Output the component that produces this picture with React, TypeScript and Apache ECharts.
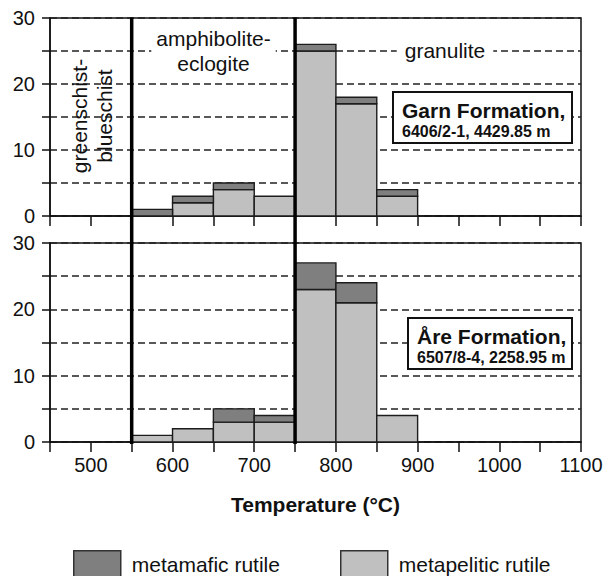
import React, { useEffect, useRef } from 'react';
import * as echarts from 'echarts';

// Histogram bins (°C), 50 °C wide
const binStarts = [550, 600, 650, 700, 750, 800, 850];
const binWidth = 50;

// Garn Formation, 6406/2-1, 4429.85 m
const garnMetapelitic = [0, 2, 4, 3, 25, 17, 3];
const garnMetamafic = [1, 1, 1, 0, 1, 1, 1];

// Åre Formation, 6507/8-4, 2258.95 m
const areMetapelitic = [1, 2, 3, 3, 23, 21, 4];
const areMetamafic = [0, 0, 2, 1, 4, 3, 0];

const xTickLabels = [500, 600, 700, 800, 900, 1000, 1100];
const yTickLabels = [0, 10, 20, 30];
const faciesBoundaries = [550, 750];

const FONT = '"Liberation Sans", Arial, Helvetica, sans-serif';
const DARK = '#7f7f7f';
const LIGHT = '#c0c0c0';
const EDGE = '#1c1c1c';
const INK = '#111111';

const lowerRects = (base: number[]) =>
  binStarts.map((s, i) => [s, s + binWidth, 0, base[i]]);
const upperRects = (base: number[], top: number[]) =>
  binStarts.map((s, i) => [s, s + binWidth, base[i], base[i] + top[i]]);

const renderItem = (_params: any, api: any) => {
  const x0 = api.value(0);
  const x1 = api.value(1);
  const y0 = api.value(2);
  const y1 = api.value(3);
  if (!(y1 > y0)) return null;
  const p0 = api.coord([x0, y1]);
  const p1 = api.coord([x1, y0]);
  return {
    type: 'rect',
    shape: { x: p0[0], y: p0[1], width: p1[0] - p0[0], height: p1[1] - p0[1] },
    style: { fill: api.visual('color'), stroke: EDGE, lineWidth: 1.4 },
  };
};

const makeXAxis = (gridIndex: number, showLabels: boolean) => ({
  type: 'value',
  gridIndex,
  min: 450,
  max: 1100,
  interval: 50,
  axisLine: { show: true, lineStyle: { color: INK, width: 1.5 } },
  axisTick: { show: true, length: 10, inside: false, lineStyle: { color: INK, width: 1.5 } },
  axisLabel: {
    show: showLabels,
    margin: 13,
    fontSize: 20,
    color: INK,
    fontFamily: FONT,
    formatter: (v: number) => (xTickLabels.includes(v) ? String(v) : ''),
  },
  splitLine: { show: false },
  ...(showLabels
    ? {
        name: 'Temperature (°C)',
        nameLocation: 'middle',
        nameGap: 52,
        nameTextStyle: { fontSize: 21, fontWeight: 'bold', color: INK, fontFamily: FONT },
      }
    : {}),
});

const makeYAxis = (gridIndex: number) => ({
  type: 'value',
  gridIndex,
  min: 0,
  max: 30,
  interval: 5,
  axisLine: { show: true, lineStyle: { color: INK, width: 1.5 } },
  axisTick: { show: true, length: 8, inside: false, lineStyle: { color: INK, width: 1.5 } },
  axisLabel: {
    margin: 15,
    fontSize: 20,
    color: INK,
    fontFamily: FONT,
    formatter: (v: number) => (yTickLabels.includes(v) ? String(v) : ''),
  },
  splitLine: { show: true, lineStyle: { color: '#222', width: 1.5, type: [7, 4] } },
});

const makeSeries = (name: string, color: string, idx: number, data: number[][]) => ({
  type: 'custom',
  name,
  xAxisIndex: idx,
  yAxisIndex: idx,
  renderItem,
  itemStyle: { color },
  encode: { x: [0, 1], y: [2, 3] },
  data,
  z: 3,
});

const legendBase = {
  icon: 'rect',
  itemWidth: 47,
  itemHeight: 27,
  top: 545,
  itemStyle: { borderColor: '#333', borderWidth: 1.5 },
  textStyle: { fontSize: 21, color: INK, fontFamily: FONT, padding: [0, 0, 0, 6] },
  selectedMode: false,
};

export default function App() {
  const ref = useRef<HTMLDivElement>(null);

  useEffect(() => {
    if (!ref.current) return;
    const chart = echarts.init(ref.current, null, { renderer: 'svg' });
    const option: any = {
      animation: false,
      backgroundColor: '#ffffff',
      textStyle: { fontFamily: FONT },
      grid: [
        { left: 50, top: 18, width: 531, height: 198, show: true, borderColor: INK, borderWidth: 1.5, backgroundColor: 'transparent' },
        { left: 50, top: 243, width: 531, height: 199, show: true, borderColor: INK, borderWidth: 1.5, backgroundColor: 'transparent' },
      ],
      xAxis: [makeXAxis(0, false), makeXAxis(1, true)],
      yAxis: [makeYAxis(0), makeYAxis(1)],
      legend: [
        { ...legendBase, left: 68, data: ['metamafic rutile'] },
        { ...legendBase, left: 335, data: ['metapelitic rutile'] },
      ],
      series: [
        makeSeries('metapelitic rutile', LIGHT, 0, lowerRects(garnMetapelitic)),
        makeSeries('metamafic rutile', DARK, 0, upperRects(garnMetapelitic, garnMetamafic)),
        makeSeries('metapelitic rutile', LIGHT, 1, lowerRects(areMetapelitic)),
        makeSeries('metamafic rutile', DARK, 1, upperRects(areMetapelitic, areMetamafic)),
      ],
    };
    chart.setOption(option);

    const yTop = chart.convertToPixel({ gridIndex: 0 } as any, [450, 30]) as number[];
    const yBot = chart.convertToPixel({ gridIndex: 1 } as any, [450, 0]) as number[];
    const boundaryLines = faciesBoundaries.map((b) => {
      const px = (chart.convertToPixel({ gridIndex: 0 } as any, [b, 0]) as number[])[0];
      return {
        type: 'line',
        z: 100,
        shape: { x1: px, y1: yTop[1] - 0.5, x2: px, y2: yBot[1] + 2 },
        style: { stroke: '#000', lineWidth: 3.5 },
      };
    });

    const textStyle = { fontFamily: FONT, fill: INK };
    chart.setOption({
      graphic: [
        ...boundaryLines,
        {
          type: 'text',
          z: 101,
          x: 92,
          y: 116,
          rotation: Math.PI / 2,
          style: {
            ...textStyle,
            text: 'greenschist-\nblueschist',
            fontSize: 21,
            lineHeight: 25,
            align: 'center',
            verticalAlign: 'middle',
          },
        },
        {
          type: 'text',
          z: 101,
          x: 213.5,
          y: 50.5,
          style: {
            ...textStyle,
            text: 'amphibolite-\neclogite',
            fontSize: 21,
            lineHeight: 25,
            align: 'center',
            verticalAlign: 'middle',
            backgroundColor: '#fff',
            padding: [1, 5],
          },
        },
        {
          type: 'text',
          z: 101,
          x: 445,
          y: 50,
          style: {
            ...textStyle,
            text: 'granulite',
            fontSize: 21,
            align: 'center',
            verticalAlign: 'middle',
            backgroundColor: '#fff',
            padding: [1, 8],
          },
        },
        {
          type: 'rect',
          z: 101,
          shape: { x: 393, y: 92, width: 179, height: 51 },
          style: { fill: '#fff', stroke: INK, lineWidth: 2 },
        },
        {
          type: 'text',
          z: 102,
          x: 402,
          y: 110,
          style: { ...textStyle, text: 'Garn Formation,', fontSize: 21, fontWeight: 'bold', verticalAlign: 'middle' },
        },
        {
          type: 'text',
          z: 102,
          x: 402,
          y: 131,
          style: { ...textStyle, text: '6406/2-1, 4429.85 m', fontSize: 16, fontWeight: 'bold', verticalAlign: 'middle' },
        },
        {
          type: 'rect',
          z: 101,
          shape: { x: 408, y: 318, width: 164, height: 51 },
          style: { fill: '#fff', stroke: INK, lineWidth: 2 },
        },
        {
          type: 'text',
          z: 102,
          x: 417,
          y: 336,
          style: { ...textStyle, text: 'Åre Formation,', fontSize: 21, fontWeight: 'bold', verticalAlign: 'middle' },
        },
        {
          type: 'text',
          z: 102,
          x: 417,
          y: 357,
          style: { ...textStyle, text: '6507/8-4, 2258.95 m', fontSize: 16, fontWeight: 'bold', verticalAlign: 'middle' },
        },
      ],
    });

    return () => chart.dispose();
  }, []);

  return (
    <div
      ref={ref}
      style={{ position: 'fixed', left: 0, top: 0, width: 606, height: 576, background: '#fff' }}
    />
  );
}
